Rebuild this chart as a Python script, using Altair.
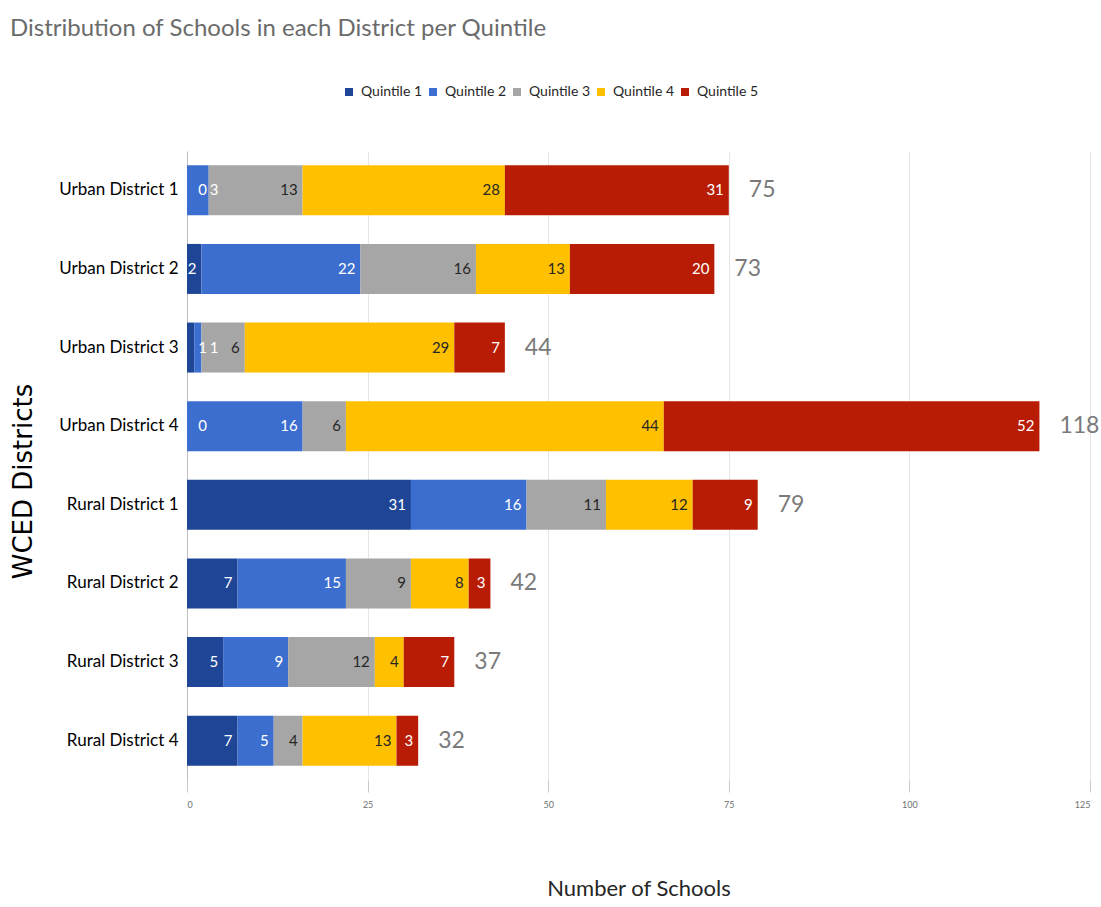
import altair as alt
import pandas as pd

districts = ["Urban District 1", "Urban District 2", "Urban District 3", "Urban District 4",
             "Rural District 1", "Rural District 2", "Rural District 3", "Rural District 4"]
quintiles = ["Quintile 1", "Quintile 2", "Quintile 3", "Quintile 4", "Quintile 5"]
q1 = [0, 2, 1, 0, 31, 7, 5, 7]
q2 = [3, 22, 1, 16, 16, 15, 9, 5]
q3 = [13, 16, 6, 6, 11, 9, 12, 4]
q4 = [28, 13, 29, 44, 12, 8, 4, 13]
q5 = [31, 20, 7, 52, 9, 3, 7, 3]
colors = ["#1e4596", "#3c6ed0", "#a6a6a6", "#ffc000", "#b81c05"]
label_colors = ["white", "white", "#262626", "#262626", "white"]

series = [q1, q2, q3, q4, q5]
rows = []
totals = []
for i, d in enumerate(districts):
    start = 0
    prev_lab = -10.0
    for j, q in enumerate(quintiles):
        v = series[j][i]
        end = start + v
        lab = end
        if v < 2:
            lab = start + 3.46
        lab = max(lab, prev_lab + 1.6)
        prev_lab = lab
        rows.append({"District": d, "Quintile": q, "Value": v, "Start": start, "End": end,
                     "LabelX": lab, "LabelColor": label_colors[j], "Order": j})
        start = end
    totals.append({"District": d, "Total": start})
df = pd.DataFrame(rows)
tdf = pd.DataFrame(totals)

FONT = "Lato"

y_enc = alt.Y("District:N", sort=districts, title="WCED Districts",
              scale=alt.Scale(paddingInner=0.36, paddingOuter=0.18),
              axis=alt.Axis(labelFontSize=17, labelColor="black", labelFont=FONT,
                            labelPadding=9, ticks=False, domainColor="#bfbfbf",
                            titleFont="DejaVu Sans", titleFontSize=26, titleFontWeight="normal",
                            titleColor="black", titleX=-164, titleY=330, titleAngle=-90,
                            titleBaseline="middle", titleAlign="center"))

bars = alt.Chart(df).mark_bar(size=50).encode(
    x=alt.X("Start:Q", scale=alt.Scale(domain=[0, 125], nice=False),
            title="Number of Schools",
            axis=alt.Axis(values=[0, 25, 50, 75, 100, 125], labelFontSize=9, labelColor="#707070",
                          labelFont=FONT, tickSize=12, tickColor="#c8c8c8", domain=False,
                          gridColor="#e6e6e6", labelPadding=8,
                          titleFont=FONT, titleFontSize=22, titleFontWeight="normal",
                          titleColor="#262626", titleY=108, titleBaseline="middle")),
    x2="End:Q",
    y=y_enc,
    color=alt.Color("Quintile:N", scale=alt.Scale(domain=quintiles, range=colors),
                    legend=alt.Legend(orient="none", legendX=155, legendY=-66, direction="horizontal",
                                      title=None, symbolType="square", symbolSize=64,
                                      labelFontSize=14, labelFont=FONT, labelColor="#262626",
                                      columnPadding=3, labelOffset=5, symbolStrokeWidth=0)),
    order="Order:Q",
)

labels = alt.Chart(df).mark_text(align="right", baseline="middle", dx=-5, fontSize=15,
                                 font=FONT).encode(
    x="LabelX:Q",
    y=alt.Y("District:N", sort=districts),
    text="Value:Q",
    color=alt.Color("LabelColor:N", scale=None),
)

total_text = alt.Chart(tdf).mark_text(align="left", baseline="middle", dx=20, fontSize=23,
                                      font=FONT, color="#7a7a7a").encode(
    x="Total:Q",
    y=alt.Y("District:N", sort=districts),
    text="Total:Q",
)

chart = alt.layer(bars, labels, total_text).properties(
    width=903, height=629,
    title=alt.TitleParams("Distribution of Schools in each District per Quintile", anchor="start",
                          frame="group", fontSize=24, font=FONT, fontWeight="normal",
                          color="#6b6b6b", dx=-177, dy=-40),
    autosize=alt.AutoSizeParams(type="none"),
    padding={"left": 187, "top": 151, "right": 11, "bottom": 127},
).configure_view(stroke=None).configure_axisY(grid=False)

chart.save("out.html", embed_options={"renderer": "svg", "actions": False})
